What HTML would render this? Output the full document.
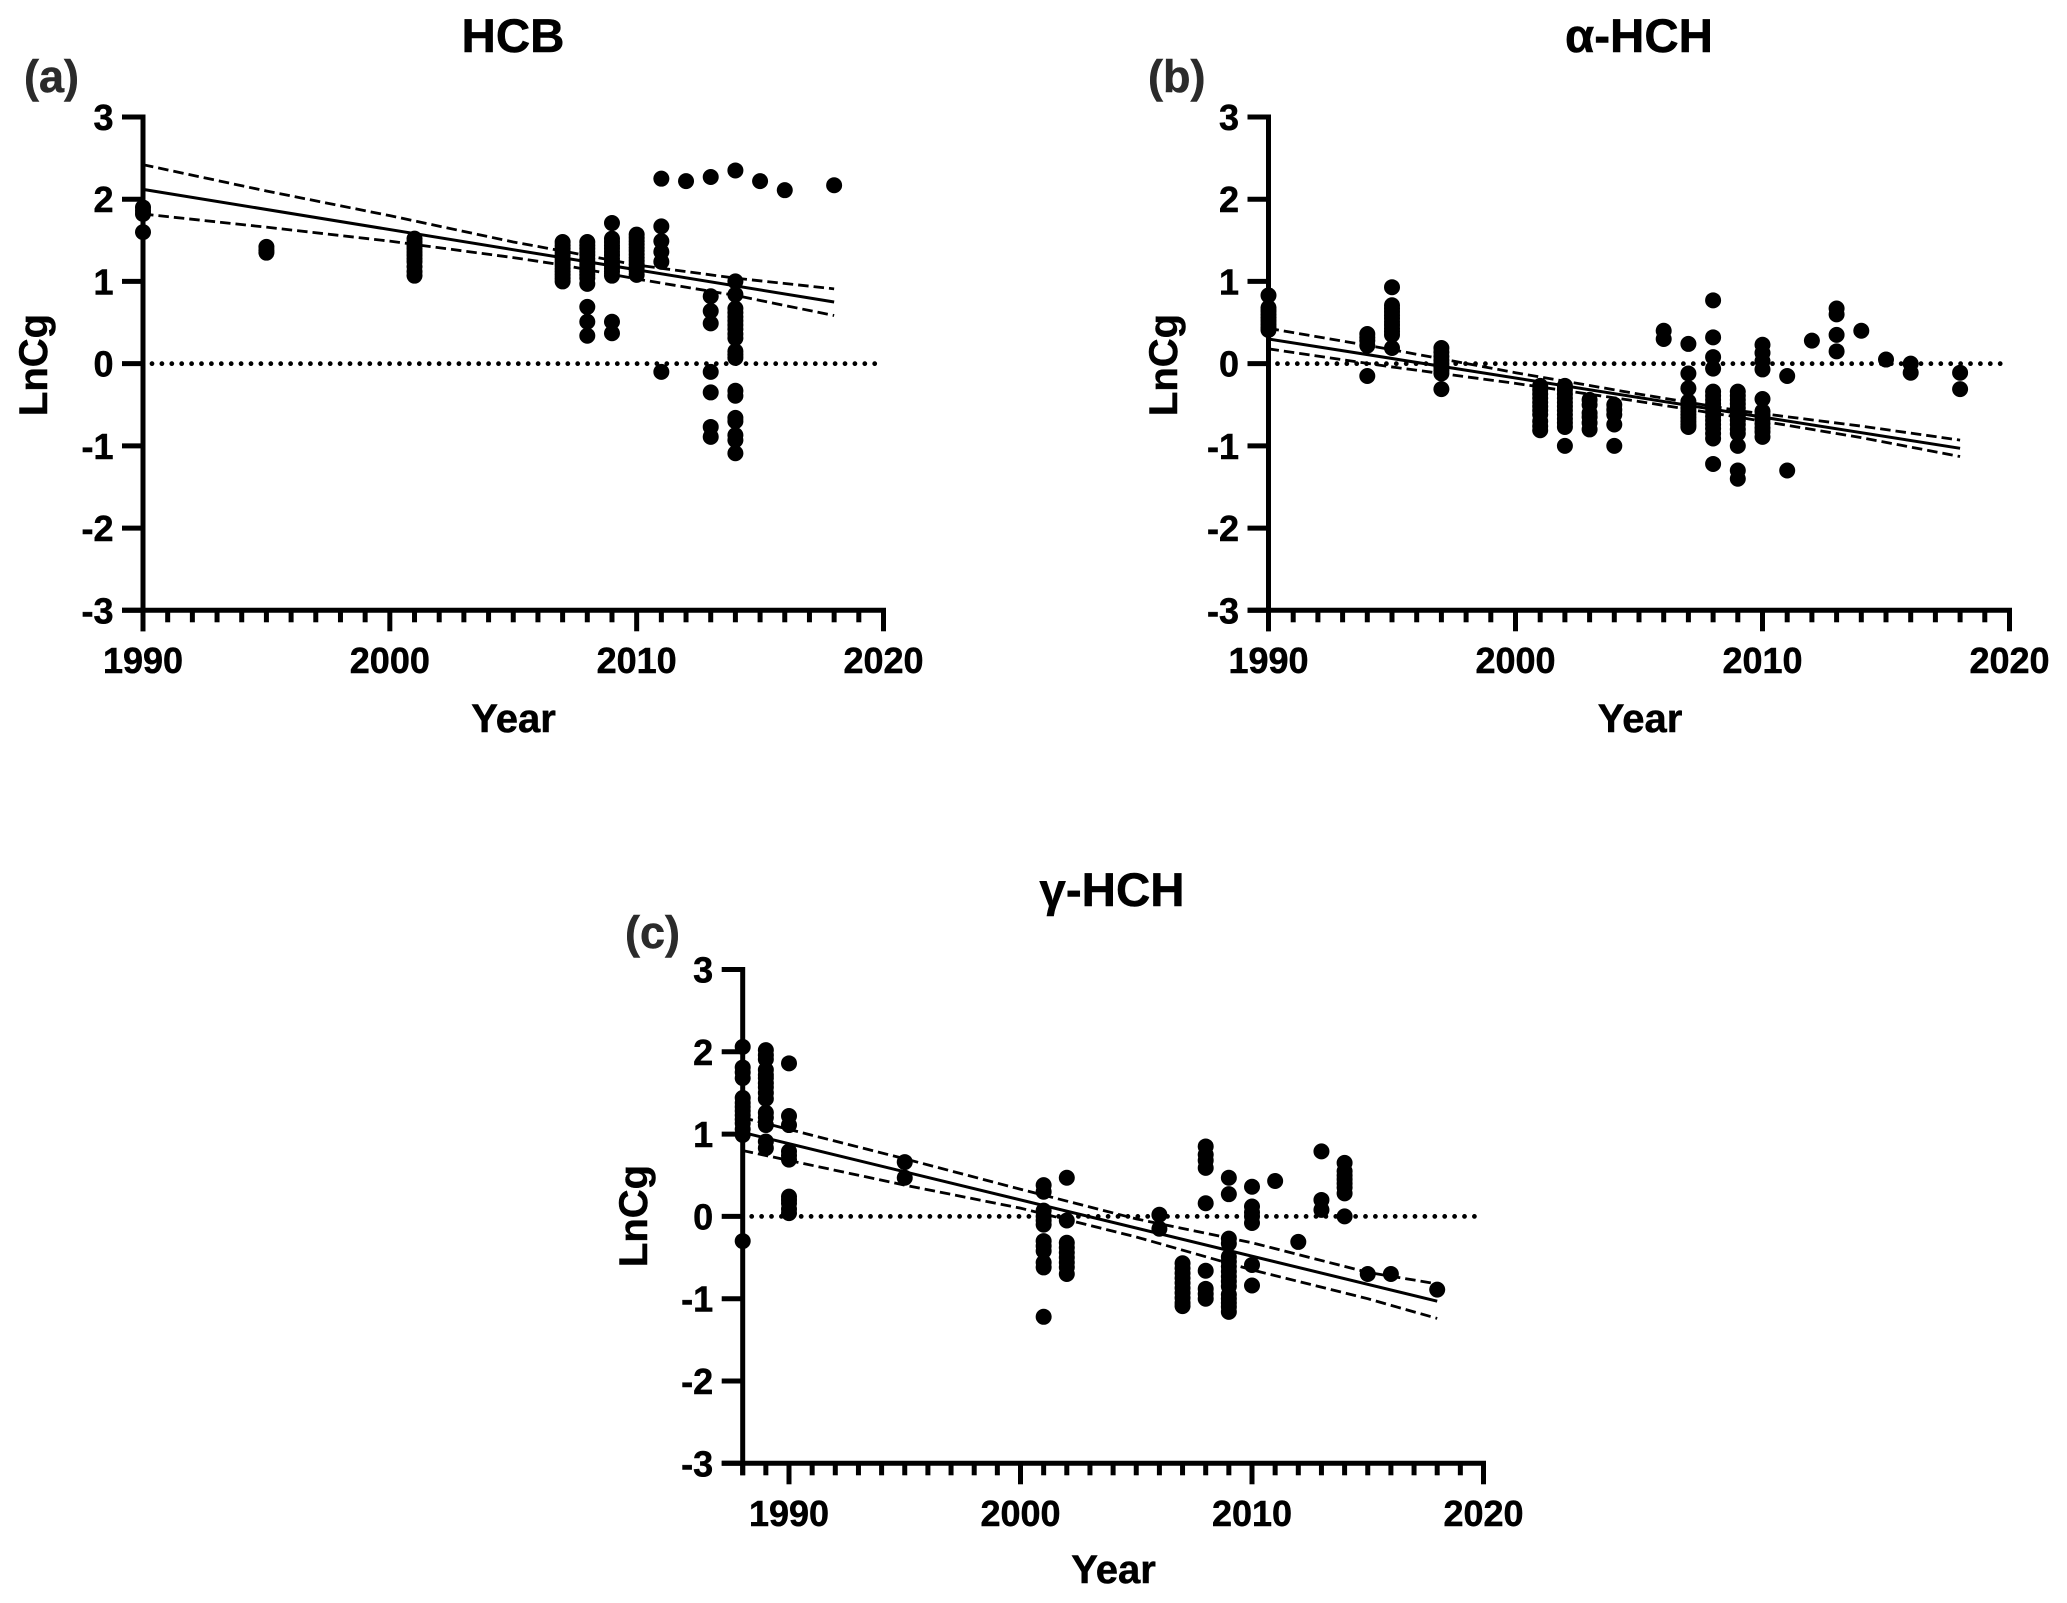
<!DOCTYPE html>
<html lang="en">
<head>
<meta charset="utf-8">
<title>LnCg trends for HCB, α-HCH and γ-HCH</title>
<style>
html,body{margin:0;padding:0;background:#fff;}
svg{display:block;}
text{font-family:"Liberation Sans",Arial,sans-serif;font-weight:bold;fill:#000;stroke:#000;stroke-width:0.5px;}
.panel-tag{fill:#2b2b2b;stroke:#2b2b2b;font-size:45px;}
.title{font-size:47.5px;text-anchor:middle;}
.axis-title{font-size:40px;text-anchor:middle;}
.tick{font-size:36px;}
</style>
</head>
<body>
<svg id="figure" width="2067" height="1603" viewBox="0 0 2067 1603" xmlns="http://www.w3.org/2000/svg">
  <rect x="0" y="0" width="2067" height="1603" fill="#fff"/>

  <g id="panel-a">
    <text class="title" x="513" y="52">HCB</text>
    <text class="panel-tag" x="24" y="92">(a)</text>
    <text class="axis-title" x="513.5" y="732">Year</text>
    <text class="axis-title" transform="translate(47,365) rotate(-90)">LnCg</text>
  </g>

  <g id="panel-b">
    <text class="title" x="1639" y="52">α-HCH</text>
    <text class="panel-tag" x="1148" y="92">(b)</text>
    <text class="axis-title" x="1640" y="732">Year</text>
    <text class="axis-title" transform="translate(1177,365) rotate(-90)">LnCg</text>
  </g>

  <g id="panel-c">
    <text class="title" x="1112" y="906">γ-HCH</text>
    <text class="panel-tag" x="625" y="948">(c)</text>
    <text class="axis-title" x="1113.5" y="1583">Year</text>
    <text class="axis-title" transform="translate(647,1216) rotate(-90)">LnCg</text>
  </g>
</svg>

<script>
// ---- shared axis values ----
const yTickValues = [-3, -2, -1, 0, 1, 2, 3];
const xTickValues = [1990, 2000, 2010, 2020];
const zeroLineEndYear = 2019.7;

// ---- (a) HCB ----
const hcbYears = [1990, 1995, 2001, 2007, 2008, 2009, 2010, 2011, 2012, 2013, 2014, 2015, 2016, 2018];
const hcbValues = [
  [1.9, 1.86, 1.82, 1.6],
  [1.42, 1.38, 1.35],
  [1.52, 1.48, 1.44, 1.4, 1.36, 1.32, 1.28, 1.24, 1.18, 1.12, 1.07],
  [1.48, 1.44, 1.4, 1.36, 1.32, 1.28, 1.24, 1.2, 1.16, 1.12, 1.08, 1.04, 1.0],
  [1.48, 1.44, 1.4, 1.36, 1.32, 1.28, 1.24, 1.2, 1.16, 1.12, 1.08, 1.04, 0.97, 0.69, 0.51, 0.34],
  [1.71, 1.52, 1.48, 1.44, 1.4, 1.36, 1.32, 1.28, 1.24, 1.2, 1.16, 1.12, 1.07, 0.51, 0.37],
  [1.57, 1.53, 1.49, 1.45, 1.41, 1.37, 1.33, 1.29, 1.25, 1.21, 1.17, 1.13, 1.08],
  [2.25, 1.67, 1.49, 1.36, 1.24, -0.1],
  [2.22],
  [2.27, 0.82, 0.64, 0.49, -0.1, -0.35, -0.77, -0.89],
  [2.35, 1.0, 0.84, 0.67, 0.62, 0.57, 0.52, 0.47, 0.42, 0.36, 0.31, 0.15, 0.11, 0.07, -0.33, -0.39, -0.66, -0.7, -0.87, -0.93, -1.09],
  [2.22],
  [2.11],
  [2.17]
];
const hcbFitYears = [1990, 2018];
const hcbFitValues = [2.12, 0.75];
const hcbBandYears = [1990, 1995, 2000, 2005, 2007, 2010, 2014, 2018];
const hcbUpperValues = [2.42, 2.1, 1.8, 1.48, 1.37, 1.2, 1.04, 0.91];
const hcbLowerValues = [1.82, 1.66, 1.49, 1.29, 1.2, 1.03, 0.83, 0.585];

// ---- (b) alpha-HCH ----
const alphaYears = [1990, 1994, 1995, 1997, 2001, 2002, 2003, 2004, 2006, 2007, 2008, 2009, 2010, 2011, 2012, 2013, 2014, 2015, 2016, 2018];
const alphaValues = [
  [0.83, 0.68, 0.64, 0.6, 0.56, 0.52, 0.48, 0.44, 0.41],
  [0.36, 0.32, 0.28, 0.22, -0.15],
  [0.93, 0.71, 0.67, 0.63, 0.59, 0.55, 0.51, 0.47, 0.43, 0.39, 0.35, 0.19],
  [0.19, 0.14, 0.09, 0.04, 0.0, -0.04, -0.08, -0.12, -0.31],
  [-0.27, -0.32, -0.37, -0.42, -0.47, -0.52, -0.57, -0.62, -0.7, -0.76, -0.81],
  [-0.27, -0.32, -0.37, -0.42, -0.47, -0.52, -0.57, -0.62, -0.67, -0.72, -0.77, -1.0],
  [-0.44, -0.5, -0.6, -0.65, -0.72, -0.8],
  [-0.5, -0.56, -0.62, -0.74, -1.0],
  [0.4, 0.3],
  [0.24, -0.12, -0.3, -0.46, -0.5, -0.54, -0.58, -0.62, -0.66, -0.7, -0.74, -0.77],
  [0.77, 0.32, 0.08, -0.06, -0.34, -0.39, -0.44, -0.49, -0.54, -0.59, -0.64, -0.69, -0.74, -0.79, -0.85, -0.91, -1.22],
  [-0.34, -0.39, -0.44, -0.49, -0.54, -0.59, -0.64, -0.69, -0.74, -0.8, -0.85, -1.0, -1.3, -1.4],
  [0.23, 0.13, 0.03, -0.07, -0.43, -0.58, -0.63, -0.68, -0.73, -0.78, -0.83, -0.89],
  [-0.15, -1.3],
  [0.28],
  [0.67, 0.6, 0.35, 0.15],
  [0.4],
  [0.05],
  [0.0, -0.11],
  [-0.11, -0.31]
];
const alphaFitYears = [1990, 2018];
const alphaFitValues = [0.3, -1.03];
const alphaBandYears = [1990, 1995, 2000, 2005, 2009, 2014, 2018];
const alphaUpperValues = [0.43, 0.17, -0.11, -0.37, -0.57, -0.76, -0.93];
const alphaLowerValues = [0.18, -0.04, -0.24, -0.46, -0.65, -0.9, -1.13];

// ---- (c) gamma-HCH ----
const gammaYears = [1988, 1989, 1990, 1995, 2001, 2002, 2006, 2007, 2008, 2009, 2010, 2011, 2012, 2013, 2014, 2015, 2016, 2018];
const gammaValues = [
  [2.06, 1.81, 1.75, 1.68, 1.44, 1.38, 1.33, 1.28, 1.23, 1.18, 1.13, 1.06, 0.99, -0.3],
  [2.02, 1.96, 1.91, 1.78, 1.72, 1.68, 1.62, 1.57, 1.5, 1.43, 1.26, 1.2, 1.11, 0.91, 0.83],
  [1.86, 1.22, 1.11, 0.79, 0.74, 0.69, 0.24, 0.2, 0.16, 0.09, 0.04],
  [0.66, 0.47],
  [0.38, 0.3, 0.07, 0.0, -0.05, -0.1, -0.3, -0.36, -0.42, -0.56, -0.62, -1.22],
  [0.47, -0.05, -0.32, -0.38, -0.44, -0.5, -0.56, -0.62, -0.7],
  [0.02, -0.15],
  [-0.57, -0.63, -0.69, -0.75, -0.81, -0.87, -0.93, -0.99, -1.05, -1.09],
  [0.85, 0.75, 0.68, 0.59, 0.16, -0.66, -0.88, -0.94, -1.0],
  [0.47, 0.27, -0.27, -0.33, -0.49, -0.55, -0.61, -0.67, -0.73, -0.79, -0.85, -0.95, -1.0, -1.05, -1.1, -1.16],
  [0.36, 0.12, 0.05, 0.0, -0.08, -0.59, -0.84],
  [0.43],
  [-0.31],
  [0.79, 0.2, 0.08],
  [0.65, 0.55, 0.5, 0.45, 0.4, 0.35, 0.28, 0.0],
  [-0.7],
  [-0.7],
  [-0.89]
];
const gammaFitYears = [1988, 2018];
const gammaFitValues = [1.02, -1.03];
const gammaBandYears = [1988, 1995, 2000, 2005, 2010, 2015, 2018];
const gammaUpperValues = [1.2, 0.7, 0.33, -0.03, -0.32, -0.68, -0.82];
const gammaLowerValues = [0.8, 0.38, 0.1, -0.25, -0.65, -1.0, -1.24];

// ---- drawing ----
const SVG_NS = 'http://www.w3.org/2000/svg';
const AXIS_WIDTH = 5;

function xScale(frame, year) {
  return frame.left + (year - frame.xMin) * (frame.right - frame.left) / (frame.xMax - frame.xMin);
}
function yScale(frame, value) {
  return frame.bottom - (value - (-3)) * (frame.bottom - frame.top) / 6;
}
function linePath(frame, years, values) {
  return years.map(function (yr, i) {
    return (i ? 'L' : 'M') + xScale(frame, yr).toFixed(2) + ' ' + yScale(frame, values[i]).toFixed(2);
  }).join(' ');
}
function segment(parent, x1, y1, x2, y2, width) {
  const el = document.createElementNS(SVG_NS, 'line');
  el.setAttribute('x1', x1);
  el.setAttribute('y1', y1);
  el.setAttribute('x2', x2);
  el.setAttribute('y2', y2);
  el.setAttribute('stroke', '#000');
  el.setAttribute('stroke-width', width);
  parent.appendChild(el);
  return el;
}
function curve(parent, d, width, dash) {
  const el = document.createElementNS(SVG_NS, 'path');
  el.setAttribute('d', d);
  el.setAttribute('fill', 'none');
  el.setAttribute('stroke', '#000');
  el.setAttribute('stroke-width', width);
  if (dash) el.setAttribute('stroke-dasharray', dash);
  parent.appendChild(el);
  return el;
}

function drawPanel(groupId, frame, years, values, fitYears, fitValues, bandYears, upperValues, lowerValues) {
  const g = document.getElementById(groupId);

  // zero reference line
  const zero = segment(g, frame.left + 9, yScale(frame, 0), xScale(frame, zeroLineEndYear), yScale(frame, 0), 4.8);
  zero.setAttribute('stroke-linecap', 'round');
  zero.setAttribute('stroke-dasharray', '0 9.9');
  
  

  // fit line and confidence band
  const fit = curve(g, linePath(frame, fitYears, fitValues), 3);
  
  

  const upper = curve(g, linePath(frame, bandYears, upperValues), 2.8, '10.5 5');
  
  

  const lower = curve(g, linePath(frame, bandYears, lowerValues), 2.8, '10.5 5');
  
  

  // axes
  const yAxisLine = segment(g, frame.left, frame.top - 2.5, frame.left, frame.bottom + frame.yAxisTail, AXIS_WIDTH);
  
  

  const xAxisLine = segment(g, frame.left - 21, frame.bottom, frame.right + 2.5, frame.bottom, AXIS_WIDTH);
  
  

  // y ticks
  yTickValues.forEach(function (v) {
    const py = yScale(frame, v);
    const mark = segment(g, frame.left - 21, py, frame.left, py, AXIS_WIDTH);
    
    

    const label = document.createElementNS(SVG_NS, 'text');
    label.setAttribute('class', 'tick');
    label.setAttribute('x', frame.left - 29.5);
    label.setAttribute('y', py + 13);
    label.setAttribute('text-anchor', 'end');
    
    
    label.textContent = String(v);
    g.appendChild(label);
  });

  // x ticks: one per year, long ones where a label sits
  for (let yr = frame.xMin; yr <= frame.xMax; yr++) {
    const px = xScale(frame, yr);
    const major = xTickValues.indexOf(yr) !== -1;
    const mark = segment(g, px, frame.bottom, px, frame.bottom + (major ? 21 : 12), AXIS_WIDTH);
    
    
  }
  xTickValues.forEach(function (yr) {
    const label = document.createElementNS(SVG_NS, 'text');
    label.setAttribute('class', 'tick');
    label.setAttribute('x', xScale(frame, yr));
    label.setAttribute('y', frame.bottom + 62.5);
    label.setAttribute('text-anchor', 'middle');
    
    
    label.textContent = String(yr);
    g.appendChild(label);
  });

  // data points
  years.forEach(function (yr, i) {
    values[i].forEach(function (v) {
      const dot = document.createElementNS(SVG_NS, 'circle');
      dot.setAttribute('cx', xScale(frame, yr).toFixed(2));
      dot.setAttribute('cy', yScale(frame, v).toFixed(2));
      dot.setAttribute('r', 8);
      dot.setAttribute('fill', '#000');
      
      
      g.appendChild(dot);
    });
  });
}

const frameA = { left: 143, right: 883.5, top: 117, bottom: 610.3, xMin: 1990, xMax: 2020, yAxisTail: 21 };
const frameB = { left: 1268.5, right: 2009.5, top: 117, bottom: 610.3, xMin: 1990, xMax: 2020, yAxisTail: 21 };
const frameC = { left: 742.7, right: 1483.5, top: 969.5, bottom: 1463.3, xMin: 1988, xMax: 2020, yAxisTail: 12 };

drawPanel('panel-a', frameA, hcbYears, hcbValues, hcbFitYears, hcbFitValues, hcbBandYears, hcbUpperValues, hcbLowerValues);
drawPanel('panel-b', frameB, alphaYears, alphaValues, alphaFitYears, alphaFitValues, alphaBandYears, alphaUpperValues, alphaLowerValues);
drawPanel('panel-c', frameC, gammaYears, gammaValues, gammaFitYears, gammaFitValues, gammaBandYears, gammaUpperValues, gammaLowerValues);
</script>
</body>
</html>
